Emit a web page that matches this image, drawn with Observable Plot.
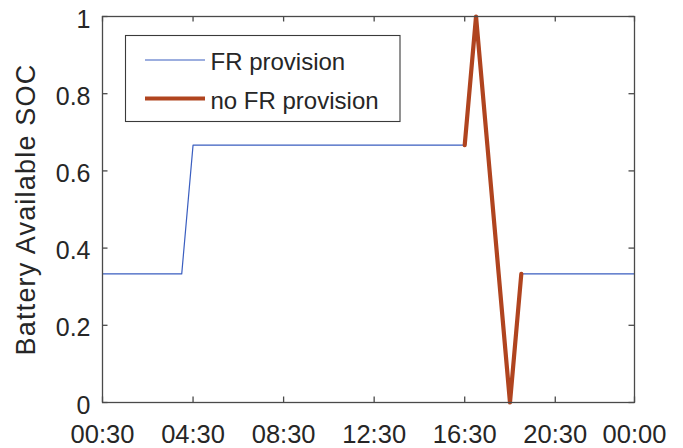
<!DOCTYPE html>
<html>
<head>
<meta charset="utf-8">
<script src="https://cdn.jsdelivr.net/npm/d3@7"></script>
<script src="https://cdn.jsdelivr.net/npm/@observablehq/plot@0.6"></script>
<style>
  html, body { margin: 0; padding: 0; background: #fff; }
  #chart { width: 683px; height: 448px; }
</style>
</head>
<body>
<div id="chart"></div>
<script>
// ---- Data ----
const times = [
  "00:30","01:00","01:30","02:00","02:30","03:00","03:30","04:00",
  "04:30","05:00","05:30","06:00","06:30","07:00","07:30","08:00","08:30",
  "09:00","09:30","10:00","10:30","11:00","11:30","12:00","12:30",
  "13:00","13:30","14:00","14:30","15:00","15:30","16:00","16:30",
  "17:00","17:30","18:00","18:30",
  "19:00","19:30","20:00","20:30","21:00","21:30","22:00","22:30","23:00","23:30","24:00"
];
const frProvision = [
  0.3333,0.3333,0.3333,0.3333,0.3333,0.3333,0.3333,0.3333,
  0.6667,0.6667,0.6667,0.6667,0.6667,0.6667,0.6667,0.6667,0.6667,
  0.6667,0.6667,0.6667,0.6667,0.6667,0.6667,0.6667,0.6667,
  0.6667,0.6667,0.6667,0.6667,0.6667,0.6667,0.6667,0.6667,
  1,0.6667,0.3333,0,
  0.3333,0.3333,0.3333,0.3333,0.3333,0.3333,0.3333,0.3333,0.3333,0.3333,0.3333
];
const noFrProvision = [
  null,null,null,null,null,null,null,null,
  null,null,null,null,null,null,null,null,null,
  null,null,null,null,null,null,null,null,
  null,null,null,null,null,null,null,0.6667,
  1,0.6667,0.3333,0,
  0.3333,null,null,null,null,null,null,null,null,null,null
];
const seriesNames = ["FR provision", "no FR provision"];
const seriesColors = ["#3a5ec0", "#b0441f"];
const xTickTimes = ["00:30","04:30","08:30","12:30","16:30","20:30","24:00"];
const xTickLabels = ["00:30","04:30","08:30","12:30","16:30","20:30","00:00"];
const yTicks = [0, 0.2, 0.4, 0.6, 0.8, 1];
const yLabel = "Battery Available SOC";

// ---- Build ----
const toHours = t => { const [h, m] = t.split(":").map(Number); return h + m / 60; };
const rows = times.map((t, i) => ({ h: toHours(t), fr: frProvision[i], nofr: noFrProvision[i] }));
const xTicks = xTickTimes.map(toHours);
const xLabelOf = new Map(xTicks.map((v, i) => [v, xTickLabels[i]]));

const W = 683, H = 448, mL = 102, mR = 49, mT = 16, mB = 46;
const pw = W - mL - mR, ph = H - mT - mB;
const tickLen = 5.5;
const axisColor = "#4a4a4a";
const font = "'Liberation Sans', Arial, Helvetica, sans-serif";

const plot = Plot.plot({
  width: W, height: H,
  marginLeft: mL, marginRight: mR, marginTop: mT, marginBottom: mB,
  style: { fontFamily: font, fontSize: "24px", color: "#262626", background: "#fff", overflow: "visible" },
  x: { type: "linear", domain: [toHours(times[0]), toHours(times[times.length - 1])] },
  y: { domain: [0, 1] },
  marks: [
    Plot.line(rows, { x: "h", y: "fr", stroke: seriesColors[0], strokeWidth: 1.2 }),
    Plot.line(rows, { x: "h", y: "nofr", stroke: seriesColors[1], strokeWidth: 4.2 }),
    Plot.frame({ stroke: axisColor, strokeWidth: 1.3 }),
    Plot.tickX(xTicks, { x: d => d, insetTop: ph - tickLen, stroke: axisColor, strokeWidth: 1.3 }),
    Plot.tickX(xTicks, { x: d => d, insetBottom: ph - tickLen, stroke: axisColor, strokeWidth: 1.3 }),
    Plot.tickY(yTicks, { y: d => d, insetRight: pw - tickLen, stroke: axisColor, strokeWidth: 1.3 }),
    Plot.tickY(yTicks, { y: d => d, insetLeft: pw - tickLen, stroke: axisColor, strokeWidth: 1.3 }),
    Plot.axisX(xTicks, { tickSize: 0, tickPadding: 22, tickFormat: d => xLabelOf.get(d), label: null, fontSize: 25.5 }),
    Plot.axisY(yTicks, { tickSize: 0, tickPadding: 12, dy: 3, tickFormat: d => String(d), label: null, fontSize: 25 }),
    Plot.text([yLabel], { text: d => d, frameAnchor: "left", textAnchor: "middle", rotate: -90, dx: -76.5, lineAnchor: "middle", fontSize: 27, fill: "#262626" })
  ]
});

// y-axis title letter spacing to match the reference's longer title
d3.select(plot).selectAll("text")
  .filter(function () { return this.textContent === yLabel; })
  .style("letter-spacing", "1.2px");

// ---- Legend (inside the axes, top-left) ----
const svg = d3.select(plot);
const lg = svg.append("g").attr("font-family", font).attr("font-size", 24).attr("fill", "#262626").attr("text-anchor", "start");
lg.append("rect").attr("x", 125.5).attr("y", 35.5).attr("width", 274.5).attr("height", 86)
  .attr("fill", "#fff").attr("stroke", "#3a3a3a").attr("stroke-width", 1.1);
const legendRows = [60, 98.5];
seriesNames.forEach((name, i) => {
  lg.append("line").attr("x1", 145).attr("x2", 205).attr("y1", legendRows[i]).attr("y2", legendRows[i])
    .attr("stroke", seriesColors[i]).attr("stroke-width", i === 0 ? 1.2 : 4.2);
  lg.append("text").attr("x", 210.5).attr("y", legendRows[i] + 10).attr("text-anchor", "start").text(name);
});

document.getElementById("chart").appendChild(plot);
</script>
</body>
</html>
